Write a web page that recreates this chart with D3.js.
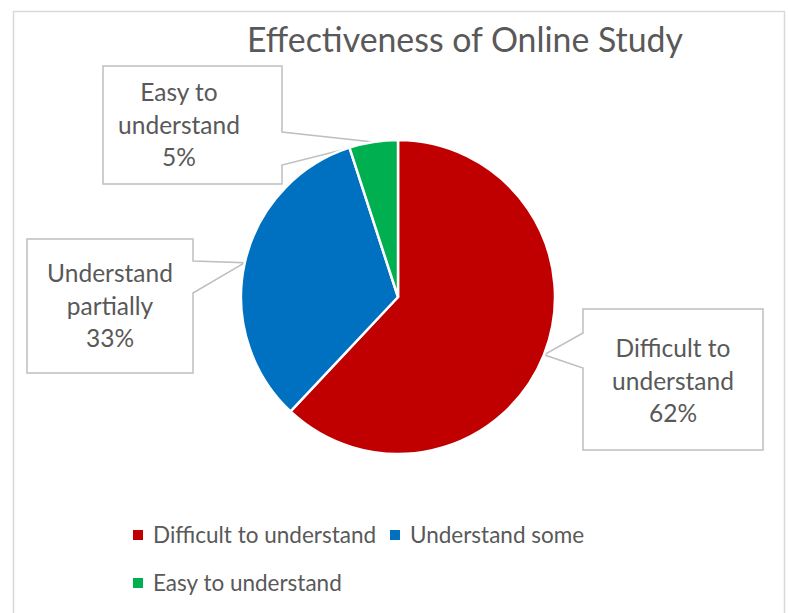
<!DOCTYPE html>
<html><head><meta charset="utf-8">
<script src="https://cdn.jsdelivr.net/npm/d3@7"></script>
<style>body{margin:0;background:#fff}svg{display:block}text{font-family:Lato,"Open Sans",sans-serif;fill:#595959}</style>
</head><body>
<svg id="c" width="788" height="613"></svg>
<script>
// ---- data ----
const title = "Effectiveness of Online Study";
const categories = ["Difficult to understand", "Understand some", "Easy to understand"];
const values = [62, 33, 5];
const labelNames = [["Difficult to", "understand"], ["Understand", "partially"], ["Easy to", "understand"]];
const labelPercents = ["62%", "33%", "5%"];
const colors = ["#C00000", "#0070C0", "#00B050"];

// ---- layout ----
const W = 788, H = 613;
const cx = 398, cy = 297, R = 157;
const boxes = [
  {x0: 583, y0: 309, x1: 763, y1: 450, side: "left", b1: 333, b2: 368, tx: 673, base: 357},
  {x0: 27, y0: 239, x1: 193, y1: 373, side: "right", b1: 261, b2: 293, tx: 110, base: 282},
  {x0: 103, y0: 66, x1: 282, y1: 184, side: "right", b1: 132, b2: 165, tx: 179, base: 101}
];

const svg = d3.select("#c");
svg.append("rect").attr("x", 13.5).attr("y", 11.5).attr("width", 771).attr("height", 640)
  .attr("fill", "#fff").attr("stroke", "#d9d9d9").attr("stroke-width", 1.5);

// title
const t = svg.append("text").attr("x", 465).attr("y", 52).attr("text-anchor", "middle")
  .attr("font-size", 30).text(title);
const tw = t.node().getComputedTextLength();
t.attr("font-size", 30 * 436 / tw);

const pie = d3.pie().value(d => d).sort(null)(values);
const arc = d3.arc().innerRadius(0).outerRadius(R);

// callouts (under pie)
const cg = svg.append("g");
pie.forEach((p, i) => {
  const b = boxes[i];
  const a = (p.startAngle + p.endAngle) / 2;
  const tip = [cx + R * Math.sin(a), cy - R * Math.cos(a)];
  let path;
  if (b.side === "left") {
    path = `M${b.x0},${b.y0}H${b.x1}V${b.y1}H${b.x0}V${b.b2}L${tip[0]},${tip[1]}L${b.x0},${b.b1}Z`;
  } else {
    path = `M${b.x0},${b.y0}H${b.x1}V${b.b1}L${tip[0]},${tip[1]}L${b.x1},${b.b2}V${b.y1}H${b.x0}Z`;
  }
  cg.append("path").attr("d", path).attr("fill", "#fff").attr("stroke", "#bfbfbf").attr("stroke-width", 1.5);
  const lines = labelNames[i].concat([labelPercents[i]]);
  lines.forEach((s, j) => {
    cg.append("text").attr("x", b.tx).attr("y", b.base + j * 32.5).attr("text-anchor", "middle")
      .attr("font-size", 24.5).text(s);
  });
});

// pie
svg.append("g").attr("transform", `translate(${cx},${cy})`)
  .selectAll("path").data(pie).join("path")
  .attr("d", arc).attr("fill", (d, i) => colors[i])
  .attr("stroke", "#fff").attr("stroke-width", 2.5).attr("stroke-linejoin", "round");

// legend
const legendPos = [[133, 535], [390, 535], [133, 583]];
categories.forEach((c, i) => {
  const [x, y] = legendPos[i];
  svg.append("rect").attr("x", x).attr("y", y - 5).attr("width", 10).attr("height", 10).attr("fill", colors[i]);
  svg.append("text").attr("x", x + 20).attr("y", y + 8).attr("font-size", 22.5).text(c);
});
</script>
</body></html>
